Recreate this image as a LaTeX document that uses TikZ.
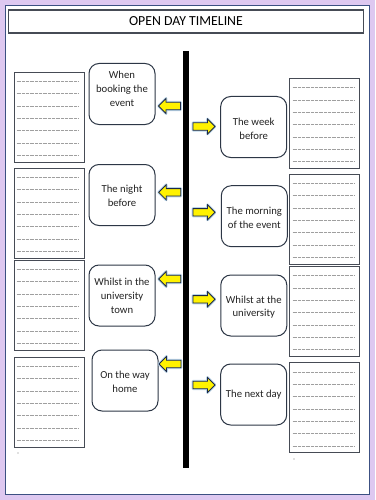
\documentclass[tikz,border=0pt]{standalone}
\usepackage{fontspec}
\setmainfont{Carlito}
\definecolor{lav}{RGB}{222,200,240}
\definecolor{frameblue}{RGB}{60,80,130}
\definecolor{boxgray}{RGB}{70,75,85}
\definecolor{rboxline}{RGB}{45,55,70}
\definecolor{txtgray}{RGB}{35,35,35}
\definecolor{glow}{RGB}{185,212,232}
\definecolor{arrline}{RGB}{30,40,70}
\newcommand{\yarrowL}[3]{% name, x tip, y center
  \coordinate (#1) at (#2,#3);
  \path[arrglow] (#1) -- ++(7.5,-7.5) -- ++(0,3.8) -- ++(14.5,0) -- ++(0,7.4) -- ++(-14.5,0) -- ++(0,3.8) -- cycle;
  \path[arrbody] (#1) -- ++(7.5,-7.5) -- ++(0,3.8) -- ++(14.5,0) -- ++(0,7.4) -- ++(-14.5,0) -- ++(0,3.8) -- cycle;
}
\newcommand{\yarrowR}[3]{% name, x tip, y center
  \coordinate (#1) at (#2,#3);
  \path[arrglow] (#1) -- ++(-7.5,-7.5) -- ++(0,3.8) -- ++(-14.5,0) -- ++(0,7.4) -- ++(14.5,0) -- ++(0,3.8) -- cycle;
  \path[arrbody] (#1) -- ++(-7.5,-7.5) -- ++(0,3.8) -- ++(-14.5,0) -- ++(0,7.4) -- ++(14.5,0) -- ++(0,3.8) -- cycle;
}
\newcommand{\linedbox}[4]{% name, x center, y center, left offset
  \node[lbox] (#1) at (#2,#3) {};
  \foreach \k in {0,...,6}{
    \draw[dotline] ([xshift=#4pt,yshift={-(9.8+\k*12.3)*1pt}]#1.north west) -- ([xshift={(#4-70+61)*1pt},yshift={-(9.8+\k*12.3)*1pt}]#1.north east);
  }
}
\begin{document}
\begin{tikzpicture}[x=1pt,y=-1pt,
  lbox/.style={draw=boxgray,line width=0.9pt,fill=white,minimum width=70pt,minimum height=90pt,inner sep=0pt},
  rbox/.style={draw=rboxline,line width=1pt,rounded corners=10pt,fill=white,minimum width=66pt,minimum height=61pt,inner sep=0pt},
  btext/.style={font=\fontsize{10.7}{13.7}\selectfont,text=txtgray,align=center,inner sep=0pt},
  dotline/.style={gray!75,line width=0.5pt,dash pattern=on 0.7pt off 0.6pt},
  arrglow/.style={draw=glow,line width=2.8pt,line join=round},
  arrbody/.style={fill=yellow,draw=arrline,line width=0.8pt,line join=miter},
  titlebox/.style={draw=boxgray,line width=1.3pt,fill=white,minimum width=355pt,minimum height=23pt,inner sep=0pt,font=\fontsize{13.8}{16}\selectfont,text=black}
]
\useasboundingbox (0,0) rectangle (375,500);
\fill[lav] (0,0) rectangle (375,500);
\draw[frameblue,line width=1.2pt,fill=white] (5.5,5.5) rectangle (369.5,494.3);

\node[titlebox] (title) at (186,21.5) {OPEN DAY TIMELINE};

% timeline
\coordinate (ltop) at (186.3,51);
\coordinate (lbot) at (186.3,468);
\draw[black,line width=5.8pt] (ltop) -- (lbot);

% left lined boxes
\linedbox{L1}{49}{117}{3}
\linedbox{L2}{49}{213}{3}
\linedbox{L3}{49}{305}{3}
\linedbox{L4}{49}{402}{3}
% right lined boxes
\linedbox{R1}{324}{123.3}{4}
\linedbox{R2}{324}{219}{4}
\linedbox{R3}{324}{311.3}{4}
\linedbox{R4}{324}{407.7}{4}

% small dots
\fill[gray] (18,453) circle (0.6);
\fill[gray] (294,459) circle (0.6);

% left rounded boxes
\node[rbox] (lb1) at (122,94) {};
\node[btext] (lt1) at (122,88.7) {When\\booking the\\event};
\node[rbox] (lb2) at (122,195) {};
\node[btext] (lt2) at (122,196) {The night\\before};
\node[rbox] (lb3) at (122,295.5) {};
\node[btext] (lt3) at (122,296) {Whilst in the\\university\\town};
\node[rbox] (lb4) at (125,380.5) {};
\node[btext] (lt4) at (125,381.7) {On the way\\home};

% right rounded boxes
\node[rbox] (rb1) at (253.7,127) {};
\node[btext] (rt1) at (253.7,128.7) {The week\\before};
\node[rbox] (rb2) at (254.3,216.2) {};
\node[btext] (rt2) at (254.3,217.5) {The morning\\of the event};
\node[rbox] (rb3) at (253.8,305.5) {};
\node[btext] (rt3) at (253.8,307) {Whilst at the\\university};
\node[rbox] (rb4) at (253.7,394.5) {};
\node[btext] (rt4) at (253.7,395) {The next day};

% arrows
\yarrowL{al1}{158.5}{106}
\yarrowL{al2}{158.7}{192.3}
\yarrowL{al3}{158.7}{279}
\yarrowL{al4}{159}{364}
\yarrowR{ar1}{215}{126.5}
\yarrowR{ar2}{215}{212.3}
\yarrowR{ar3}{215}{299.3}
\yarrowR{ar4}{215}{385}
\end{tikzpicture}
\end{document}
